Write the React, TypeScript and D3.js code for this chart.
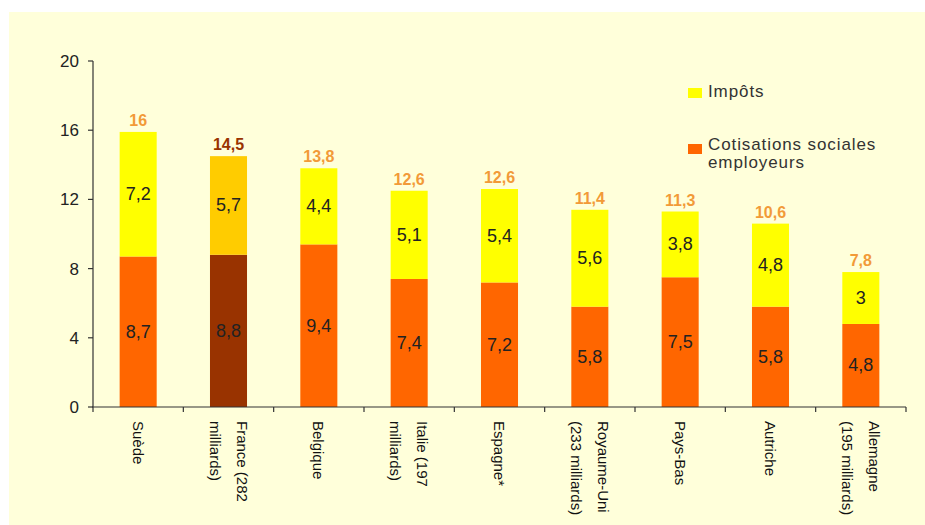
import React from "react";
import * as d3 from "d3";

const countries = [
  "Suède",
  "France (282\nmilliards)",
  "Belgique",
  "Italie (197\nmilliards)",
  "Espagne*",
  "Royaume-Uni\n(233 milliards)",
  "Pays-Bas",
  "Autriche",
  "Allemagne\n(195 milliards)",
];
const cotisations = [8.7, 8.8, 9.4, 7.4, 7.2, 5.8, 7.5, 5.8, 4.8];
const impots = [7.2, 5.7, 4.4, 5.1, 5.4, 5.6, 3.8, 4.8, 3];
const totals = [16, 14.5, 13.8, 12.6, 12.6, 11.4, 11.3, 10.6, 7.8];
const yTicks = [0, 4, 8, 12, 16, 20];
const highlightIndex = 1;
const legendLabels = ["Impôts", "Cotisations sociales\nemployeurs"];

const W = 925;
const H = 525;
const FONT = "'Liberation Sans', Arial, sans-serif";

const fmt = (v: number) => String(v).replace(".", ",");

export default function App() {
  const x = d3.scaleBand<number>().domain(d3.range(countries.length)).range([93, 906]).padding(0);
  const y = d3.scaleLinear().domain([0, 20]).range([407, 61]);
  const barW = x.bandwidth() * 0.41;

  const colCot = (i: number) => (i === highlightIndex ? "#993300" : "#FF6600");
  const colImp = (i: number) => (i === highlightIndex ? "#FFCC00" : "#FFFF00");
  const colTot = (i: number) => (i === highlightIndex ? "#993300" : "#F29A38");

  const boundaries = d3.range(countries.length + 1).map((i) =>
    i < countries.length ? (x(i) as number) : (x(countries.length - 1) as number) + x.bandwidth()
  );

  return (
    <svg
      width={W}
      height={H}
      style={{ position: "absolute", left: 0, top: 0, background: "#fff" }}
      fontFamily={FONT}
    >
      <rect x={9} y={12} width={W - 9} height={H - 12} fill="#FFFFDA" />

      {/* bars */}
      {countries.map((c, i) => {
        const cx = (x(i) as number) + x.bandwidth() / 2;
        const y0 = y(0);
        const y1 = y(cotisations[i]);
        const y2 = y(cotisations[i] + impots[i]);
        return (
          <g key={c}>
            <rect x={cx - barW / 2} y={y1} width={barW} height={y0 - y1} fill={colCot(i)} />
            <rect x={cx - barW / 2} y={y2} width={barW} height={y1 - y2} fill={colImp(i)} />
            <text x={cx} y={(y0 + y1) / 2 + 6} textAnchor="middle" fontSize={18} fill="#222">
              {fmt(cotisations[i])}
            </text>
            <text x={cx} y={(y1 + y2) / 2 + 6} textAnchor="middle" fontSize={18} fill="#222">
              {fmt(impots[i])}
            </text>
            <text
              x={cx}
              y={y2 - 6}
              textAnchor="middle"
              fontSize={16}
              fontWeight="bold"
              fill={colTot(i)}
            >
              {fmt(totals[i])}
            </text>
          </g>
        );
      })}

      {/* y axis */}
      <line x1={93} x2={93} y1={y(20)} y2={y(0)} stroke="#333" strokeWidth={1.2} />
      {yTicks.map((t) => (
        <g key={t}>
          <line x1={88} x2={93} y1={y(t)} y2={y(t)} stroke="#333" strokeWidth={1.2} />
          <text x={79} y={y(t) + 6} textAnchor="end" fontSize={17} fill="#222">
            {t}
          </text>
        </g>
      ))}

      {/* x axis */}
      <line x1={92} x2={boundaries[boundaries.length - 1]} y1={y(0)} y2={y(0)} stroke="#333" strokeWidth={1.2} />
      {boundaries.map((b, i) => (
        <line key={i} x1={b} x2={b} y1={y(0)} y2={y(0) + 5} stroke="#333" strokeWidth={1.2} />
      ))}
      {countries.map((c, i) => {
        const cx = (x(i) as number) + x.bandwidth() / 2;
        const lines = c.split("\n");
        const spacing = 27;
        return (
          <g key={"l" + i} transform={`translate(${cx},421) rotate(90)`}>
            {lines.map((ln, j) => (
              <text
                key={j}
                x={0}
                y={5.5 + (j - (lines.length - 1) / 2) * spacing}
                fontSize={15}
                fill="#111"
              >
                {ln}
              </text>
            ))}
          </g>
        );
      })}

      {/* legend */}
      <rect x={688} y={88} width={14} height={10} fill="#FFFF00" />
      <text x={708} y={97} fontSize={17} letterSpacing={0.9} fill="#333">
        {legendLabels[0]}
      </text>
      <rect x={688} y={144} width={14} height={10} fill="#FF6600" />
      {legendLabels[1].split("\n").map((ln, j) => (
        <text key={j} x={708} y={150 + j * 18} fontSize={17} letterSpacing={0.9} fill="#333">
          {ln}
        </text>
      ))}
    </svg>
  );
}
